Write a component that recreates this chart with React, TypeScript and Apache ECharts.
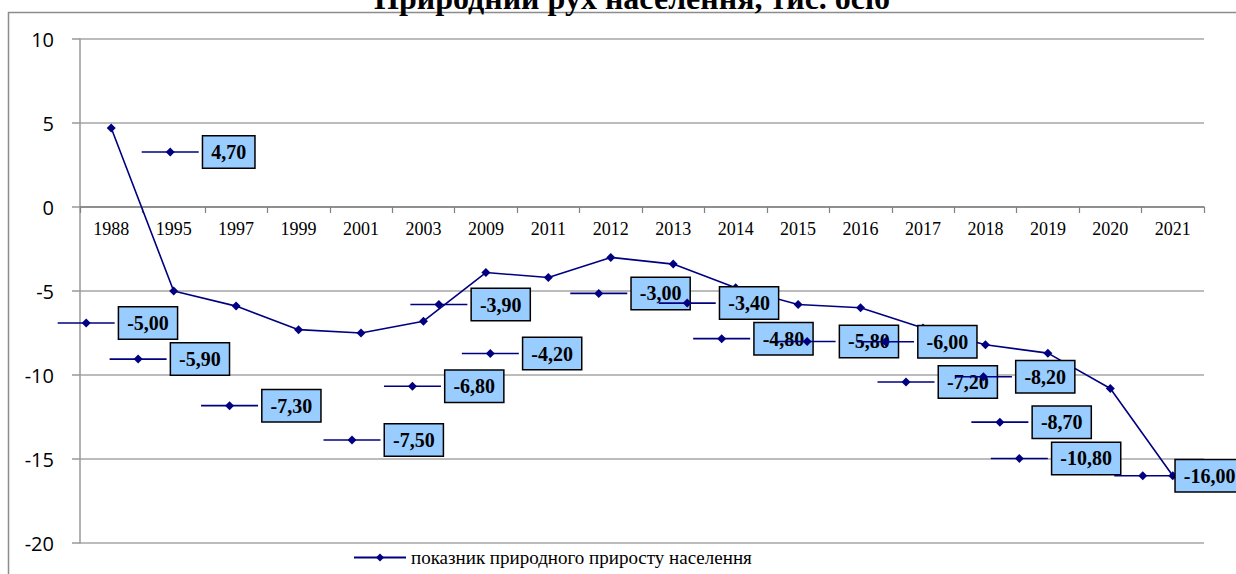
import React, { useEffect, useRef } from "react";
import * as echarts from "echarts";

const categories = ["1988", "1995", "1997", "1999", "2001", "2003", "2009", "2011", "2012", "2013", "2014", "2015", "2016", "2017", "2018", "2019", "2020", "2021"];
const values = [4.7, -5.0, -5.9, -7.3, -7.5, -6.8, -3.9, -4.2, -3.0, -3.4, -4.8, -5.8, -6.0, -7.2, -8.2, -8.7, -10.8, -16.0];
const seriesName = "показник природного приросту населення";
const titleText = "Природний рух населення, тис. осіб";
const yTicks = { min: -20, max: 10, interval: 5 };

// label key (diamond) offsets from each data point, in px (layout only)
const labelOffsets = [
  [59, 24], [-87.5, 32], [-98, 53], [-69, 76], [-9, 107], [-11, 65],
  [-47, 32], [-58, 76], [-12, 36], [14, 39], [-14, 51], [9, 37],
  [25, 34], [-17, 54], [-2, 32], [-48, 69], [-91, 70], [-30, 0],
];

const NAVY = "#000080";
const fmt = (v: number) => v.toFixed(2).replace(".", ",");

export default function App() {
  const ref = useRef<HTMLDivElement>(null);
  useEffect(() => {
    if (!ref.current) return;
    const chart = echarts.init(ref.current, null, { renderer: "svg" });
    chart.setOption({
      animation: false,
      backgroundColor: "#fff",
      grid: { left: 80, right: 32, top: 39, bottom: 31, containLabel: false },
      graphic: [
        {
          type: "rect",
          z: 100,
          silent: true,
          shape: { x: 8.5, y: 12.5, width: 1400, height: 700 },
          style: { fill: "none", stroke: "#8c8c8c", lineWidth: 1.5 },
        },
        {
          type: "text",
          z: 101,
          x: 632,
          y: -2,
          style: {
            text: titleText,
            font: 'bold 32px "Liberation Serif"',
            fill: "#000",
            align: "center",
            verticalAlign: "middle",
          },
        },
      ],
      legend: {
        left: 348,
        top: 543,
        itemWidth: 52,
        itemHeight: 10,
        data: [seriesName],
        textStyle: { fontFamily: '"Liberation Serif"', fontSize: 19, color: "#000" },
      },
      xAxis: {
        type: "category",
        data: categories,
        boundaryGap: true,
        position: "bottom",
        offset: -336,
        axisLine: { onZero: false, lineStyle: { color: "#808080", width: 1.5 } },
        axisTick: { show: true, length: 6, lineStyle: { color: "#808080", width: 1.2 } },
        axisLabel: { fontFamily: '"Liberation Serif"', fontSize: 18, color: "#000", margin: 13 },
        splitLine: { show: false },
      },
      yAxis: {
        type: "value",
        min: yTicks.min,
        max: yTicks.max,
        interval: yTicks.interval,
        axisLine: { show: true, lineStyle: { color: "#999", width: 1.5 } },
        axisTick: { show: true, length: 8, lineStyle: { color: "#999", width: 1.5 } },
        axisLabel: { fontFamily: '"Open Sans"', fontSize: 20, color: "#000", margin: 26 },
        splitLine: { show: true, lineStyle: { color: "#a6a6a6", width: 1.5 } },
      },
      series: [
        {
          name: seriesName,
          type: "line",
          data: values,
          symbol: "diamond",
          symbolSize: 9,
          lineStyle: { color: NAVY, width: 1.6 },
          itemStyle: { color: NAVY },
          z: 2,
        },
        {
          name: "labels",
          type: "custom",
          data: values.map((v, i) => [i, v]),
          encode: { x: 0, y: 1 },
          clip: false,
          z: 5,
          silent: true,
          renderItem: (params: any, api: any) => {
            const i = api.value(0);
            const v = api.value(1);
            const p = api.coord([i, v]);
            const off = labelOffsets[i];
            const kx = p[0] + off[0];
            const ky = p[1] + off[1];
            return {
              type: "group",
              children: [
                {
                  type: "line",
                  shape: { x1: kx - 28.5, y1: ky, x2: kx + 28.5, y2: ky },
                  style: { stroke: NAVY, lineWidth: 1.6 },
                },
                {
                  type: "polygon",
                  shape: { points: [[kx, ky - 4.5], [kx + 4.5, ky], [kx, ky + 4.5], [kx - 4.5, ky]] },
                  style: { fill: NAVY },
                },
                {
                  type: "text",
                  x: kx + 33,
                  y: ky,
                  style: {
                    text: fmt(v),
                    font: 'bold 20px "Liberation Serif"',
                    fill: "#000",
                    align: "left",
                    verticalAlign: "middle",
                    backgroundColor: "#99CCFF",
                    borderColor: "#000",
                    borderWidth: 1.5,
                    padding: [6, 8, 5, 8],
                  },
                },
              ],
            };
          },
        },
      ],
    });
    return () => chart.dispose();
  }, []);
  return (
    <div
      ref={ref}
      style={{ position: "fixed", left: 0, top: 0, width: 1236, height: 574 }}
    />
  );
}
